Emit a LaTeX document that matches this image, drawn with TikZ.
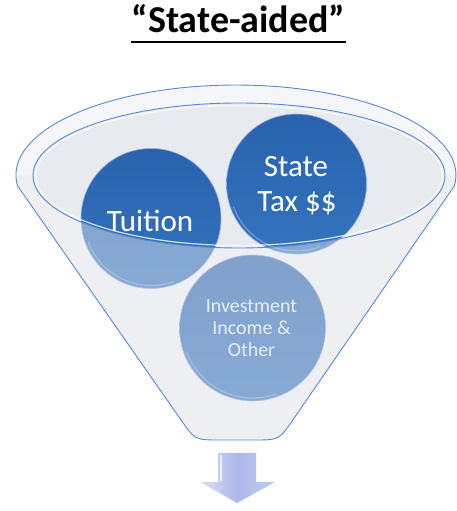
\documentclass[tikz,border=0pt]{standalone}
\usepackage{fontspec}
\setmainfont{Carlito}
\usetikzlibrary{calc}
\definecolor{balltop}{HTML}{2963AE}
\definecolor{ballbot}{HTML}{3473BE}
\definecolor{rimline}{HTML}{5A88D0}
\definecolor{rimfill}{HTML}{F5F6F9}
\definecolor{innerfill}{HTML}{E7EBF0}
\definecolor{glass}{HTML}{E4E8EE}
\definecolor{invtext}{HTML}{E8EEF7}
\definecolor{arrowmid}{HTML}{ADB7E8}
\definecolor{arrowleft}{HTML}{DCE1F7}
\definecolor{arrowright}{HTML}{C4CBF0}
\tikzset{
  ball/.style={circle, inner sep=0pt, minimum size=#1, top color=balltop, bottom color=ballbot, draw=rimline!70!white, line width=0.6pt},
  bigtext/.style={font=\fontsize{31}{34}\selectfont, text=white, inner sep=0pt, anchor=base},
  smalltext/.style={font=\fontsize{20}{22}\selectfont, text=invtext, inner sep=0pt, anchor=base},
  gloss/.style={white, opacity=0.3, line width=1.2pt, line cap=round},
  funnelline/.style={draw=rimline, line width=0.9pt}
}
\def\bodypath{(L) arc[start angle=187, end angle=-7, x radius=220pt, y radius=90pt] -- (P3) .. controls (br) .. (P4) -- (P2) .. controls (bl) .. (P1) -- cycle}
\begin{document}
\begin{tikzpicture}[x=1pt,y=1pt]
\useasboundingbox (0,0) rectangle (457,511);
\fill[white] (0,0) rectangle (457,511);

% title
\node[font=\bfseries\fontsize{38}{42}\selectfont, anchor=base, inner sep=0pt] (title) at (238.5,478) {“State-aided”};
\draw[line width=2pt] ($(title.base west)+(0,-9)$) -- ($(title.base east)+(0,-9)$);

% funnel geometry
\coordinate (oc) at (236,336);
\coordinate (ic) at (239,335.5);
\coordinate (L) at (17.6,325);
\coordinate (bl) at (195,71);
\coordinate (br) at (279,71);
\coordinate (P1) at (180.7,91.5);
\coordinate (P2) at (220,71);
\coordinate (P3) at (293.2,91.6);
\coordinate (P4) at (254,71);

% body
\fill[rimfill] \bodypath;
\fill[innerfill] (ic) ellipse[x radius=206pt, y radius=72.5pt];

% balls
\node[ball=140pt] (tu) at (151,292.5) {};
\node[ball=140pt] (st) at (296.5,327) {};
\node[ball=146pt] (inv) at (252.5,183) {};
\foreach \b/\r in {tu/67, st/67, inv/70}{
  \draw[gloss] (\b.center) ++(200:\r pt) arc[start angle=200, end angle=290, radius=\r pt];
}

% front glass overlay
\begin{scope}
  \clip \bodypath;
  \fill[glass, opacity=0.47] (33,335.5) arc[start angle=180, end angle=360, x radius=206pt, y radius=72.5pt] -- (457,335.5) -- (457,0) -- (0,0) -- (0,335.5) -- cycle;
\end{scope}

% outlines
\draw[funnelline] \bodypath;
\draw[white, opacity=0.8, line width=1.2pt] (ic) ellipse[x radius=203.5pt, y radius=70pt];
\draw[funnelline] (ic) ellipse[x radius=206pt, y radius=72.5pt];

% texts
\node[bigtext] (tutext) at (150,279) {Tuition};
\node[bigtext] (sttext1) at (296,334) {State};
\node[bigtext] (sttext2) at (297,299) {Tax \$\$};
\node[smalltext] (invtext1) at (251.5,198) {Investment};
\node[smalltext] (invtext2) at (251.5,176) {Income \&};
\node[smalltext] (invtext3) at (251.5,154) {Other};

% arrow
\path[left color=arrowleft, right color=arrowright, middle color=arrowmid]
  (218,58) -- (256,58) -- (256,29) -- (275,29) -- (237,8) -- (200,29) -- (218,29) -- cycle;
\draw[white, opacity=0.7, line width=1.5pt] (221,56) -- (221,30);
\end{tikzpicture}
\end{document}
